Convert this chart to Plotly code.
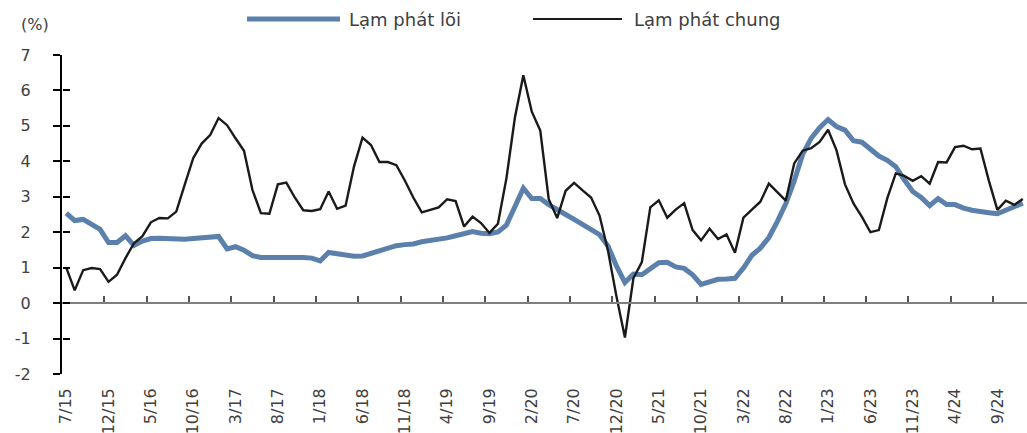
import plotly.graph_objects as go

W, H = 1027, 433
ML, MR, MT, MB = 62, 0, 55, 59

# Monthly categories 7/15 .. 12/24
months = []
_m, _y = 7, 15
for _ in range(114):
    months.append(f"{_m}/{_y}")
    _m += 1
    if _m > 12:
        _m, _y = 1, _y + 1

# Core inflation (Lạm phát lõi), %
core = [
    2.54, 2.33, 2.36, 2.22, 2.08, 1.71, 1.71, 1.90, 1.63, 1.75,   # 7/15 - 4/16
    1.82, 1.83, 1.81, 1.80, 1.80, 1.82, 1.85, 1.87, 1.88, 1.53,   # 5/16 - 2/17
    1.59, 1.49, 1.34, 1.29, 1.29, 1.30, 1.31, 1.31, 1.29, 1.27,   # 3/17 - 12/17
    1.19, 1.43, 1.39, 1.34, 1.32, 1.33, 1.40, 1.48, 1.55, 1.62,   # 1/18 - 10/18
    1.65, 1.67, 1.73, 1.76, 1.79, 1.84, 1.90, 1.97, 2.02, 1.97,   # 11/18 - 8/19
    1.96, 2.01, 2.20, 2.72, 3.24, 2.95, 2.95, 2.78, 2.62, 2.50,   # 9/19 - 6/20
    2.36, 2.21, 2.06, 1.93, 1.61, 1.05, 0.58, 0.82, 0.80, 0.98,   # 7/20 - 4/21
    1.14, 1.15, 1.02, 0.98, 0.80, 0.53, 0.60, 0.67, 0.68, 0.70,   # 5/21 - 2/22
    0.99, 1.35, 1.55, 1.85, 2.30, 2.80, 3.45, 4.20, 4.65, 4.95,   # 3/22 - 12/22
    5.18, 4.98, 4.88, 4.58, 4.54, 4.34, 4.15, 4.03, 3.85, 3.48,   # 1/23 - 10/23
    3.15, 2.98, 2.75, 2.95, 2.78, 2.78, 2.68, 2.62, 2.60, 2.55,   # 11/23 - 8/24
    2.52, 2.62, 2.72, 2.82,                                       # 9/24 - 12/24
]

# Headline inflation (Lạm phát chung), %
headline = [
    1.00, 0.36, 0.93, 0.99, 0.96, 0.60, 0.80, 1.27, 1.69, 1.89,   # 7/15 - 4/16
    2.28, 2.40, 2.39, 2.58, 3.34, 4.09, 4.50, 4.74, 5.22, 5.02,   # 5/16 - 2/17
    4.65, 4.30, 3.19, 2.54, 2.52, 3.35, 3.40, 2.98, 2.62, 2.60,   # 3/17 - 12/17
    2.65, 3.15, 2.66, 2.75, 3.86, 4.67, 4.46, 3.98, 3.98, 3.89,   # 1/18 - 10/18
    3.46, 2.98, 2.56, 2.64, 2.70, 2.93, 2.88, 2.16, 2.44, 2.26,   # 11/18 - 8/19
    1.98, 2.24, 3.52, 5.23, 6.43, 5.40, 4.87, 2.93, 2.40, 3.17,   # 9/19 - 6/20
    3.39, 3.18, 2.98, 2.47, 1.48, 0.19, -0.97, 0.70, 1.16, 2.70,  # 7/20 - 4/21
    2.90, 2.41, 2.64, 2.82, 2.06, 1.77, 2.10, 1.81, 1.94, 1.42,   # 5/21 - 2/22
    2.41, 2.64, 2.86, 3.37, 3.14, 2.89, 3.94, 4.30, 4.37, 4.55,   # 3/22 - 12/22
    4.89, 4.31, 3.35, 2.81, 2.43, 2.00, 2.06, 2.96, 3.66, 3.59,   # 1/23 - 10/23
    3.45, 3.58, 3.37, 3.98, 3.97, 4.40, 4.44, 4.34, 4.36, 3.45,   # 11/23 - 8/24
    2.63, 2.89, 2.77, 2.94,                                       # 9/24 - 12/24
]

tick_labels = ["7/15", "12/15", "5/16", "10/16", "3/17", "8/17", "1/18", "6/18",
               "11/18", "4/19", "9/19", "2/20", "7/20", "12/20", "5/21", "10/21",
               "3/22", "8/22", "1/23", "6/23", "11/23", "4/24", "9/24"]
y_ticks = [-2, -1, 0, 1, 2, 3, 4, 5, 6, 7]
y_tick_labels = ["-2", "-1", "0", "1", "2", "3", "4", "5", "6", "7"]

series_names = ["Lạm phát lõi", "Lạm phát chung"]
colors = ["#5B80AB", "#1A1A1A"]

x_idx = list(range(len(months)))
tick_pos = [months.index(t) for t in tick_labels]
boundaries = [p - 0.5 for p in tick_pos]
x_range = [-0.5, len(months) - 0.5]
y_range = [-2, 7]

PW = W - ML - MR
PH = H - MT - MB


def px_x(px):
    return (px - ML) / PW


def px_y(py):
    return (H - MB - py) / PH


fig = go.Figure()
# core on the main subplot (x, y)
fig.add_trace(go.Scatter(x=x_idx, y=core, mode="lines", name=series_names[0],
                         line=dict(color=colors[0], width=5), showlegend=False))
# headline on the overlay subplot (x2, y2) - same ranges, provides the zero-line axis & cross ticks
fig.add_trace(go.Scatter(x=x_idx, y=headline, mode="lines", name=series_names[1],
                         xaxis="x2", yaxis="y2",
                         line=dict(color=colors[1], width=2.4), showlegend=False))

font_family = "DejaVu Sans"
text_color = "#404040"

fig.update_layout(
    width=W, height=H,
    margin=dict(l=ML, r=MR, t=MT, b=MB, pad=0),
    paper_bgcolor="white", plot_bgcolor="white",
    showlegend=False,
    font=dict(family=font_family, color=text_color, size=16),
    xaxis=dict(range=x_range, tickmode="array", tickvals=tick_pos, ticktext=tick_labels,
               tickangle=-90, ticks="", showline=False, showgrid=False, zeroline=False,
               tickfont=dict(size=16, color=text_color), ticklabelstandoff=10),
    xaxis2=dict(overlaying="x", anchor="free", position=(0 - y_range[0]) / (y_range[1] - y_range[0]),
                side="bottom",
                range=x_range, tickmode="array", tickvals=boundaries,
                ticks="inside", ticklen=6, tickwidth=1.5, tickcolor="#555555",
                showticklabels=False, showline=True, linecolor="#7F7F7F", linewidth=2,
                showgrid=False, zeroline=False),
    yaxis=dict(range=y_range, tickmode="array", tickvals=y_ticks, ticktext=y_tick_labels,
               ticks="outside", ticklen=7, tickwidth=1.5, tickcolor="black",
               showline=True, linecolor="black", linewidth=2,
               showgrid=False, zeroline=False,
               tickfont=dict(size=16, color=text_color), ticklabelstandoff=19),
    yaxis2=dict(overlaying="y", anchor="free", position=0, side="left",
                range=y_range, tickmode="array", tickvals=y_ticks,
                ticks="inside", ticklen=7, tickwidth=1.5, tickcolor="black",
                showticklabels=False, showline=False, showgrid=False, zeroline=False),
)

# Manual legend (wide line samples as in the reference)
leg_y = px_y(19)
fig.add_shape(type="line", xref="paper", yref="paper", x0=px_x(247), x1=px_x(340),
              y0=leg_y, y1=leg_y, line=dict(color=colors[0], width=5))
fig.add_shape(type="line", xref="paper", yref="paper", x0=px_x(533), x1=px_x(622),
              y0=leg_y, y1=leg_y, line=dict(color=colors[1], width=2))
fig.add_annotation(text=series_names[0], xref="paper", yref="paper", x=px_x(347), y=px_y(20),
                   xanchor="left", yanchor="middle", showarrow=False,
                   font=dict(family=font_family, size=18, color=text_color))
fig.add_annotation(text=series_names[1], xref="paper", yref="paper", x=px_x(632), y=px_y(20),
                   xanchor="left", yanchor="middle", showarrow=False,
                   font=dict(family=font_family, size=18, color=text_color))
fig.add_annotation(text="(%)", xref="paper", yref="paper", x=px_x(19), y=px_y(24),
                   xanchor="left", yanchor="middle", showarrow=False,
                   font=dict(family=font_family, size=16, color=text_color))

fig.write_html("out.html", post_script="document.body.style.margin='0';",
               config={"displayModeBar": False})
